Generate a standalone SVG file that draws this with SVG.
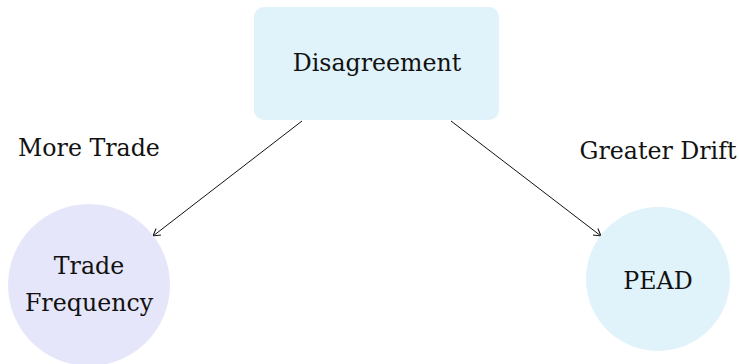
<svg xmlns="http://www.w3.org/2000/svg" width="739" height="364" viewBox="0 0 739 364">
<style>
text{font-family:"DejaVu Serif","Liberation Serif",serif;font-size:23.7px;fill:#111;text-anchor:middle}
.edge{stroke:#111;stroke-width:1;fill:none}
</style>
<defs>
<marker id="arr" viewBox="-8 -5 10 10" refX="0" refY="0" markerWidth="10" markerHeight="10" markerUnits="userSpaceOnUse" orient="auto">
<path d="M-7,-4 L0,0 L-7,4" fill="none" stroke="#111" stroke-width="1"/>
</marker>
</defs>
<rect width="739" height="364" fill="#fff"/>
<g id="connectors">
<line class="edge" x1="302" y1="121" x2="153" y2="236" marker-end="url(#arr)"/>
<line class="edge" x1="451" y1="121" x2="601" y2="236" marker-end="url(#arr)"/>
<text x="89" y="156">More Trade</text>
<text x="658" y="159">Greater Drift</text>
</g>
<g id="disagreement">
<rect x="254" y="7" width="245" height="113" rx="10" fill="#e0f2fa"/>
<text x="377" y="71">Disagreement</text>
</g>
<g id="trade-frequency">
<circle cx="89" cy="285" r="81" fill="#e6e6fa"/>
<text x="89" y="274">Trade</text>
<text x="89" y="311">Frequency</text>
</g>
<g id="pead">
<circle cx="658" cy="279" r="72" fill="#e0f2fa"/>
<text x="658" y="289">PEAD</text>
</g>
</svg>
